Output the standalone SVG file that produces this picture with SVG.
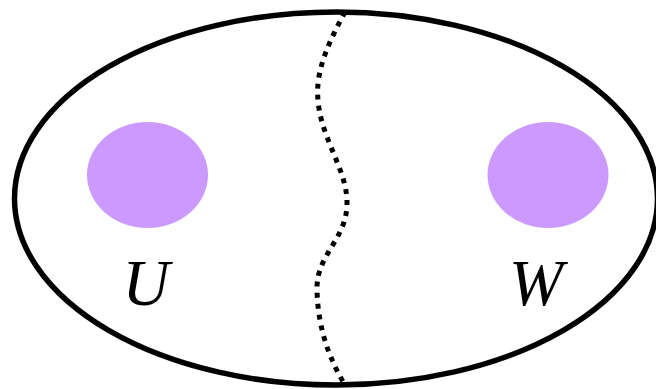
<svg xmlns="http://www.w3.org/2000/svg" width="656" height="389" viewBox="0 0 656 389">
<style>
.lbl{font-family:"Liberation Serif","Times New Roman",serif;font-style:italic;font-size:65px;fill:#000;text-anchor:middle}
.blob{fill:#CC99FF}
</style>
<rect width="656" height="389" fill="#fff"/>
<g id="outer"><ellipse cx="336" cy="198.5" rx="321.5" ry="186.5" fill="none" stroke="#000" stroke-width="5.5"/></g>
<g id="connectors"><path d="M345,12 C330,40 315,70 318,100 C321,140 348,170 347,205 C346,240 316,255 317,290 C318,330 330,360 345,385" fill="none" stroke="#000" stroke-width="5" stroke-dasharray="5 6"/></g>
<g id="U"><ellipse class="blob" cx="147.5" cy="175" rx="60.5" ry="53"/><text class="lbl" x="146" y="305">U</text></g>
<g id="W"><ellipse class="blob" cx="548" cy="175" rx="60.5" ry="53"/><text class="lbl" x="536" y="305">W</text></g>
</svg>
